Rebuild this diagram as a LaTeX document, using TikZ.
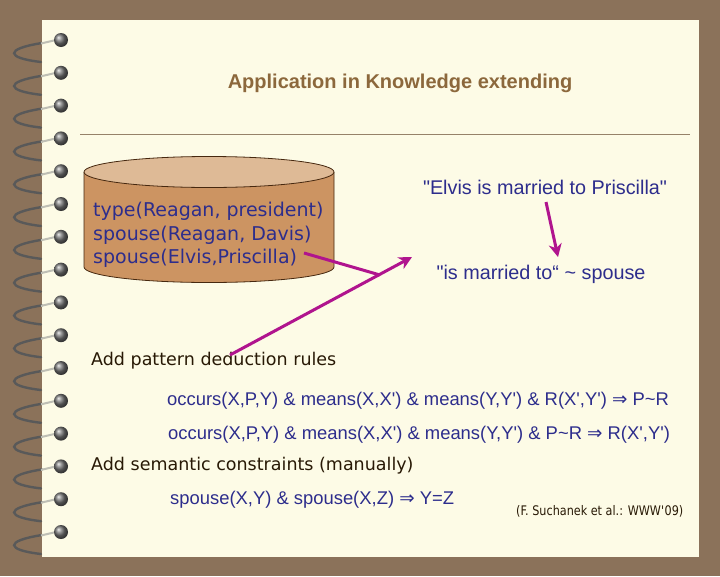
\documentclass[tikz,border=0pt]{standalone}
\usepackage{fontspec}
\setmainfont{Liberation Sans}
\newfontfamily\verdfont{DejaVu Sans}
\newfontfamily\citefont[FakeStretch=0.85]{DejaVu Sans}
\usetikzlibrary{arrows.meta, positioning}
\definecolor{frame}{RGB}{139, 114, 90}
\definecolor{paper}{RGB}{253, 251, 230}
\definecolor{titlebrown}{RGB}{140, 104, 60}
\definecolor{rulegray}{RGB}{150, 130, 105}
\definecolor{textblue}{RGB}{45, 45, 140}
\definecolor{textdark}{RGB}{40, 25, 5}
\definecolor{magenta}{RGB}{176, 20, 142}
\definecolor{cylside}{RGB}{204, 148, 98}
\definecolor{cyltop}{RGB}{222, 186, 150}
\definecolor{cyledge}{RGB}{70, 40, 15}
\definecolor{wire}{RGB}{190, 190, 180}

\begin{document}
\begin{tikzpicture}[
    x=1pt, y=-1pt,
    titletext/.style={font=\fontsize{20}{24}\selectfont\bfseries, text=titlebrown, inner sep=0pt},
    facts/.style={font=\verdfont\fontsize{19}{23.5}\selectfont, text=textblue, align=left, inner sep=0pt, anchor=west},
    quote/.style={font=\fontsize{19.8}{23}\selectfont, text=textblue, inner sep=0pt},
    headtext/.style={font=\verdfont\fontsize{17.5}{21}\selectfont, text=textdark, inner sep=0pt, anchor=west},
    ruletext/.style={font=\fontsize{18.4}{22}\selectfont, text=textblue, inner sep=0pt, anchor=west},
    note/.style={font=\citefont\fontsize{13.2}{15}\selectfont, text=textdark, inner sep=0pt, anchor=west},
    magline/.style={draw=magenta, line width=3pt},
    magarrow/.style={draw=magenta, line width=3pt, -{Stealth[length=13pt, width=13pt, inset=4pt]}}
]

    % Page and spiral binding
    \fill[frame] (0,0) rectangle (720,576);
    \fill[paper] (42,20) rectangle (699,557);
    \foreach \k in {0,...,15}{
        \pgfmathsetmacro{\ry}{40+32.8*\k}
        \begin{scope}[shift={(0,\ry)}]
            \draw[black!65, line width=2.4pt, line cap=round] (42,3) .. controls (4,9) and (6,18) .. (41,22);
            \draw[wire, line width=2pt] (41,3.5) -- (56,0);
            \shade[ball color=black!55] (61,0) circle (7);
        \end{scope}
    }

    % Title
    \node[titletext] (title) at (400,83) {Application in Knowledge extending};
    \draw[rulegray, line width=0.8pt] (80,134) -- (690,134);

    % Database cylinder
    \filldraw[fill=cylside, draw=cyledge, line width=0.8pt] (84,172) -- (84,267)
        arc[start angle=180, end angle=0, x radius=125, y radius=15.5] -- (334,172);
    \filldraw[fill=cyltop, draw=cyledge, line width=0.8pt] (209,172) ellipse[x radius=125, y radius=15.5];
    \node[facts] (db) at (93,235) {type(Reagan, president)\\spouse(Reagan, Davis)\\spouse(Elvis,Priscilla)};

    % Sentences
    \node[quote] (elvis) at (545,187) {\textquotedbl Elvis is married to Priscilla\textquotedbl};
    \node[quote] (married) at (541,274) {\textquotedbl is married to“ \textasciitilde{} spouse};

    % Rules
    \node[headtext] (pattern) at (91,361) {Add pattern deduction rules};
    \node[ruletext] (rulea) at (167,401) {occurs(X,P,Y) \& means(X,X\textquotesingle) \& means(Y,Y\textquotesingle) \& R(X\textquotesingle,Y\textquotesingle) {\verdfont ⇒} P\textasciitilde R};
    \node[ruletext] (ruleb) at (168,435) {occurs(X,P,Y) \& means(X,X\textquotesingle) \& means(Y,Y\textquotesingle) \& P\textasciitilde R {\verdfont ⇒} R(X\textquotesingle,Y\textquotesingle)};
    \node[headtext] (semantic) at (91,466) {Add semantic constraints (manually)};
    \node[ruletext] (rulec) at (170,500) {spouse(X,Y) \& spouse(X,Z) {\verdfont ⇒} Y=Z};
    \node[note] (cite) at (516,511) {(F. Suchanek et al.: WWW\textquotesingle 09)};

    % Arrows
    \coordinate (factend) at (304,253);
    \coordinate (meet) at (380,275);
    \coordinate (patfoot) at (230,355);
    \coordinate (target) at (412,257);
    \coordinate (elvisfoot) at (546,202);
    \coordinate (marriedtop) at (558,257);
    \draw[magline] (factend) -- (meet);
    \draw[magarrow] (patfoot) -- (target);
    \draw[magarrow] (elvisfoot) -- (marriedtop);

\end{tikzpicture}
\end{document}
